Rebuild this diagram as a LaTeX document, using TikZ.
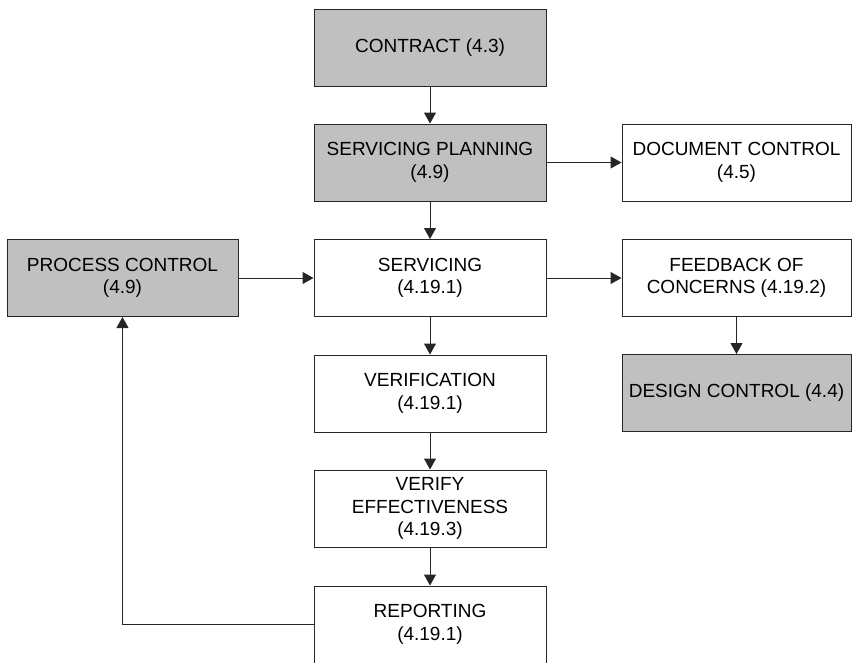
\documentclass[tikz,border=0pt]{standalone}
\usepackage{fontspec}
\setmainfont{Liberation Sans}
\usetikzlibrary{arrows.meta}

\definecolor{boxgray}{RGB}{192,192,192}
\tikzset{
	box/.style={draw=black!85, line width=1pt, minimum width=232pt, minimum height=77pt,
		inner sep=0pt, align=center, font=\fontsize{19}{22.5}\selectfont},
	graybox/.style={box, fill=boxgray},
	flow/.style={-{Triangle[length=11pt,width=12pt]}, line width=1pt, draw=black!85}
}

\begin{document}
\begin{tikzpicture}[x=1pt, y=-1pt]
		\useasboundingbox (0,0) rectangle (852,662);
		% main column
		\node[graybox] (contract) at (430,47.5) {CONTRACT (4.3)};
		\node[graybox] (planning) at (430,162.5) {SERVICING PLANNING\\(4.9)};
		\node[box] (servicing) at (430,278) {SERVICING\\(4.19.1)};
		\node[box] (verification) at (430,393.5) {VERIFICATION\\(4.19.1)};
		\node[box] (effectiveness) at (430,508.5) {VERIFY\\EFFECTIVENESS\\(4.19.3)};
		\node[box] (reporting) at (430,624.5) {REPORTING\\(4.19.1)};
		% side boxes
		\node[graybox, minimum width=231pt] (process) at (122.5,278) {PROCESS CONTROL\\(4.9)};
		\node[box, minimum width=229pt] (doccontrol) at (736.5,162.5) {DOCUMENT CONTROL\\(4.5)};
		\node[box, minimum width=229pt] (feedback) at (736.5,278) {FEEDBACK OF\\CONCERNS (4.19.2)};
		\node[graybox, minimum width=229pt] (design) at (736.5,393) {DESIGN CONTROL (4.4)};

		\draw[flow] (contract) -- (planning);
		\draw[flow] (planning) -- (servicing);
		\draw[flow] (servicing) -- (verification);
		\draw[flow] (verification) -- (effectiveness);
		\draw[flow] (effectiveness) -- (reporting);
		\draw[flow] (planning) -- (doccontrol);
		\draw[flow] (servicing) -- (feedback);
		\draw[flow] (process) -- (servicing);
		\draw[flow] (feedback) -- (design);
		\draw[flow] (reporting.west) -| (process.south);
\end{tikzpicture}
\end{document}
